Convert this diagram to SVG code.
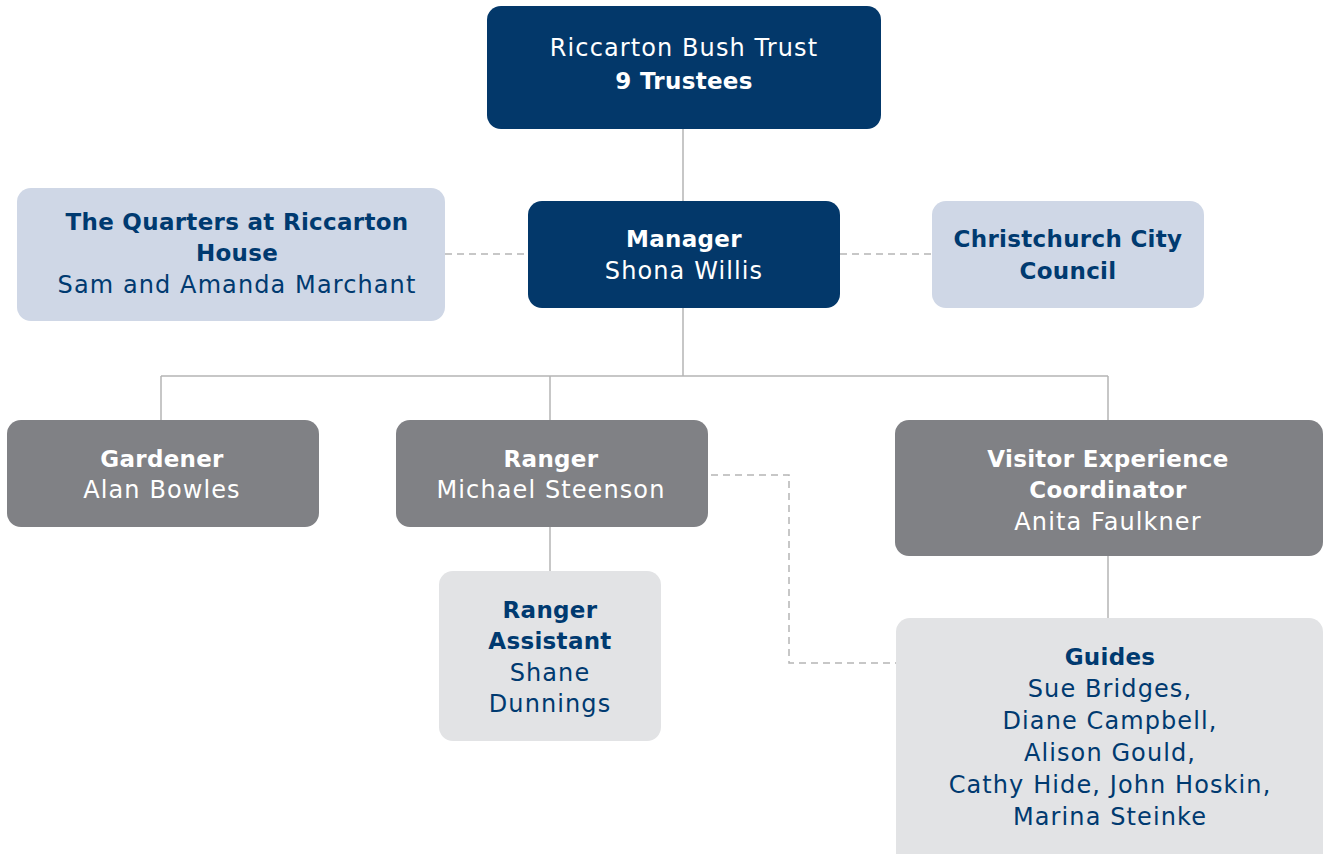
<svg xmlns="http://www.w3.org/2000/svg" width="1324" height="854" viewBox="0 0 1324 854">
<style>
text{font-family:"DejaVu Sans","Liberation Sans",sans-serif;font-size:24px;letter-spacing:1.1px;text-anchor:middle}
.b{font-weight:bold;font-size:23px;letter-spacing:0.3px}
.w{fill:#ffffff}
.n{fill:#003a70}
.dark{fill:#03386a}
.lb{fill:#cfd7e6}
.g{fill:#808185}
.lg{fill:#e2e3e5}
.ln{stroke:#b5b5b5;stroke-width:1.5;fill:none}
.d{stroke-dasharray:7 5}
</style>
<rect width="1324" height="854" fill="#ffffff"/>
<g id="connectors">
<path class="ln" d="M683 129V201M683 308V376M161 376H1108M161 376V420M550 376V420M1108 376V420M550 527V571M1108 556V618"/>
<path class="ln d" d="M445 254H528M840 254H932M711 475H789V663H896"/>
</g>
<g id="trust"><rect class="dark" x="487" y="6" width="394" height="123" rx="14"/>
<text class="w" x="684" y="56">Riccarton Bush Trust</text><text class="w b" x="684" y="89">9 Trustees</text></g>
<g id="manager"><rect class="dark" x="528" y="201" width="312" height="107" rx="14"/>
<text class="w b" x="684" y="247">Manager</text><text class="w" x="684" y="279">Shona Willis</text></g>
<g id="quarters"><rect class="lb" x="17" y="188" width="428" height="133" rx="14"/>
<text class="n b" x="237" y="230">The Quarters at Riccarton</text><text class="n b" x="237" y="261">House</text><text class="n" x="237" y="293">Sam and Amanda Marchant</text></g>
<g id="council"><rect class="lb" x="932" y="201" width="272" height="107" rx="14"/>
<text class="n b" x="1068" y="247">Christchurch City</text><text class="n b" x="1068" y="279">Council</text></g>
<g id="gardener"><rect class="g" x="7" y="420" width="312" height="107" rx="14"/>
<text class="w b" x="162" y="467">Gardener</text><text class="w" x="162" y="498">Alan Bowles</text></g>
<g id="ranger"><rect class="g" x="396" y="420" width="312" height="107" rx="14"/>
<text class="w b" x="551" y="467">Ranger</text><text class="w" x="551" y="498">Michael Steenson</text></g>
<g id="vec"><rect class="g" x="895" y="420" width="428" height="136" rx="14"/>
<text class="w b" x="1108" y="467">Visitor Experience</text><text class="w b" x="1108" y="498">Coordinator</text><text class="w" x="1108" y="530">Anita Faulkner</text></g>
<g id="assistant"><rect class="lg" x="439" y="571" width="222" height="170" rx="14"/>
<text class="n b" x="550" y="618">Ranger</text><text class="n b" x="550" y="649">Assistant</text><text class="n" x="550" y="681">Shane</text><text class="n" x="550" y="712">Dunnings</text></g>
<g id="guides"><rect class="lg" x="896" y="618" width="427" height="250" rx="14"/>
<text class="n b" x="1110" y="665">Guides</text><text class="n" x="1110" y="697">Sue Bridges,</text><text class="n" x="1110" y="729">Diane Campbell,</text><text class="n" x="1110" y="761">Alison Gould,</text><text class="n" x="1110" y="793">Cathy Hide, John Hoskin,</text><text class="n" x="1110" y="825">Marina Steinke</text></g>
</svg>
